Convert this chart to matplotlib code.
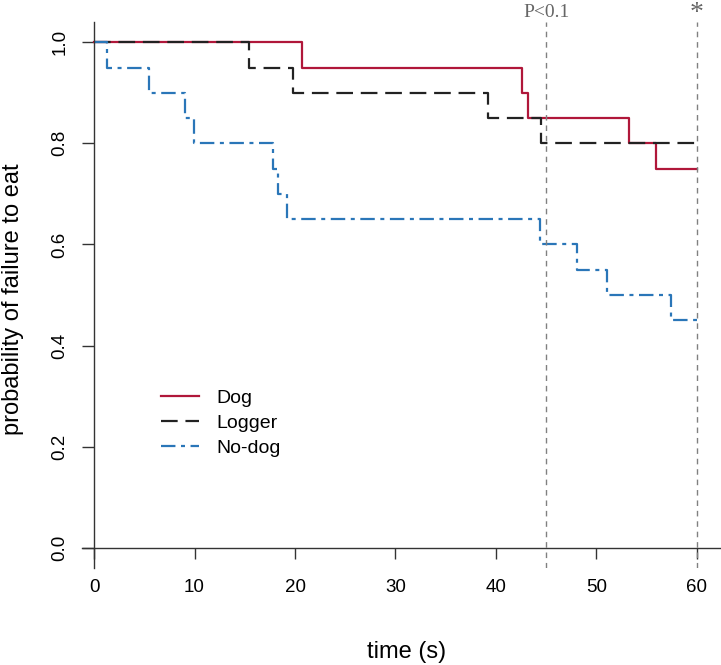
import matplotlib
matplotlib.use('Agg')
import matplotlib.pyplot as plt
import matplotlib.transforms as mtransforms
from matplotlib import rcParams

rcParams['font.family'] = 'Liberation Sans'
rcParams['axes.linewidth'] = 1.0

# Kaplan-Meier curves (time in s, survival)
dog_t = [0, 20.7, 42.6, 43.2, 53.2, 55.9, 60]
dog_s = [1.0, 0.95, 0.90, 0.85, 0.80, 0.75, 0.75]
logger_t = [0, 15.4, 19.8, 39.2, 44.5, 60]
logger_s = [1.0, 0.95, 0.90, 0.85, 0.80, 0.80]
nodog_t = [0, 1.3, 5.5, 9.1, 9.9, 17.8, 18.3, 19.2, 44.4, 48.1, 51.1, 57.4, 60]
nodog_s = [1.0, 0.95, 0.90, 0.85, 0.80, 0.75, 0.70, 0.65, 0.60, 0.55, 0.50, 0.45, 0.45]

group_names = ['Dog', 'Logger', 'No-dog']
vlines_x = [45, 60]
vline_notes = ['P<0.1', '*']
x_ticks = [0, 10, 20, 30, 40, 50, 60]
y_ticks = [0.0, 0.2, 0.4, 0.6, 0.8, 1.0]

fig = plt.figure(figsize=(7.21, 6.65), dpi=100)
ax = fig.add_axes([82/721, 97/665, 639/721, 546/665])

ax.step(dog_t, dog_s, where='post', color='#B0173A', lw=1.6, label=group_names[0])
ax.step(logger_t, logger_s, where='post', color='#222222', lw=1.6,
        dashes=(7.5, 3.5), label=group_names[1])
ax.step(nodog_t, nodog_s, where='post', color='#2A76B8', lw=1.6,
        dashes=(6.5, 2.5, 1.8, 2.5), label=group_names[2])

for xv in vlines_x:
    ax.axvline(xv, color='#808080', lw=1.0, dashes=(4, 3.5))

ax.set_xlim(-1.2, 62.4)
ax.set_ylim(-0.04, 1.04)

ax.spines['top'].set_visible(False)
ax.spines['right'].set_visible(False)
ax.spines['left'].set_position(('data', 0))
ax.spines['bottom'].set_position(('data', 0))
ax.spines['left'].set_color('#333333')
ax.spines['bottom'].set_color('#333333')

ax.set_xticks(x_ticks)
ax.set_yticks(y_ticks)
ax.set_yticklabels(['%.1f' % v for v in y_ticks])
ax.tick_params(axis='x', direction='out', length=8, width=1.0, color='#333333',
               labelsize=13.5, pad=14.5)
ax.tick_params(axis='y', direction='out', length=8.6, width=1.0, color='#333333',
               labelsize=13.5, pad=10)
for lab in ax.get_yticklabels():
    lab.set_rotation(90)
    lab.set_va('center')

ax.set_xlabel('time (s)', fontsize=17)
ax.xaxis.set_label_coords(0.5086, -0.154)
ax.xaxis.label.set_va('center')
ax.set_ylabel('probability of failure to eat', fontsize=17)
ax.yaxis.set_label_coords(-0.108, 0.4927)
ax.yaxis.label.set_va('center')

trans = mtransforms.blended_transform_factory(ax.transData, ax.transAxes)
ax.text(vlines_x[0], 1.0092, vline_notes[0], transform=trans, ha='center', va='baseline',
        family='Liberation Serif', fontsize=14, color='#666666', clip_on=False)
ax.text(vlines_x[1], 1.004, vline_notes[1], transform=trans, ha='center', va='baseline',
        family='Liberation Serif', fontsize=20, color='#666666', clip_on=False)

ax.legend(loc='center left', bbox_to_anchor=(6.67, 0.246), bbox_transform=ax.transData,
          frameon=False, fontsize=14, handlelength=1.96, handletextpad=0.88,
          labelspacing=0.38, borderpad=0, borderaxespad=0)

plt.savefig('out.png', dpi=100)
